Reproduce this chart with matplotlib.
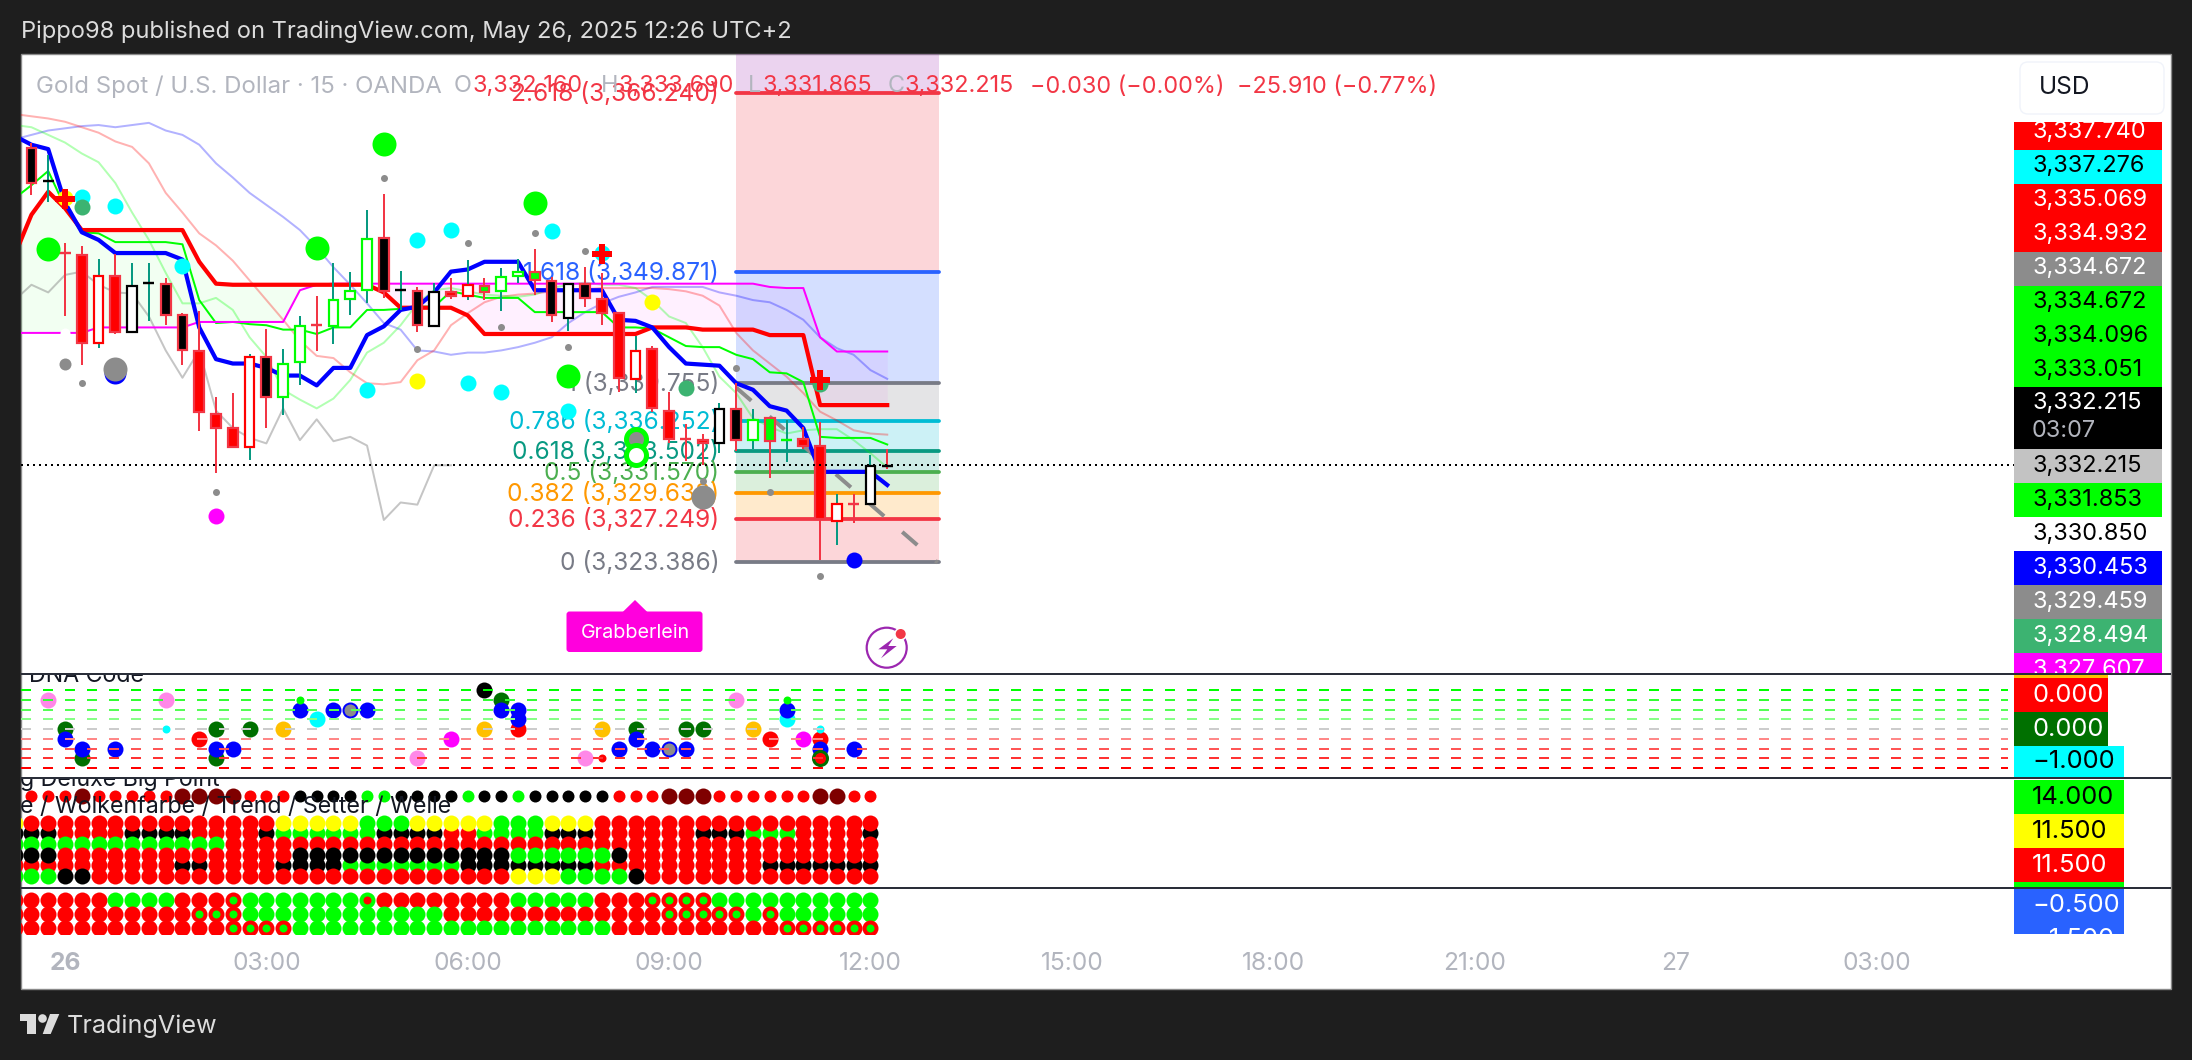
import numpy as np
import matplotlib
matplotlib.use("Agg")
import matplotlib.pyplot as plt
from matplotlib.patches import Rectangle, Circle, Polygon, FancyBboxPatch
from matplotlib.transforms import Bbox

plt.rcParams['font.family'] = ['Inter', 'Liberation Sans', 'DejaVu Sans']

# ---------- DATA (prices are given as offset above 3300) ----------
PRICE_BASE = 3300.0
bar_t = list(range(-2, 50))         # bar index, 4 bars = 1 hour, 0 = 00:00 on the 26th
candle_style = ['K','dk','dR','R','r','R','w','dk','K','K','R','R','R','r','K','g','g','dR','g','g','g','K','dk','K','w','R','r','G','g','g','G','K','w','K','R','R','r','R','R','dR','R','w','K','g','G','dG','R','R','r','dR','w','dkr']
body_top = [61.2,58.2,51.6,51.4,49.5,49.5,48.6,48.9,48.8,45.9,42.6,36.9,35.6,42.1,42.1,41.5,44.9,45.0,47.3,48.1,52.9,53.0,48.2,48.1,48.0,48.0,48.7,48.6,49.4,49.9,49.9,49.0,48.8,48.8,47.4,46.1,42.6,42.8,37.2,34.6,34.5,37.3,37.3,36.3,36.5,34.5,34.6,34.0,28.7,28.7,32.1,32.1]
body_bot = [58.0,58.2,51.6,43.4,43.4,44.4,44.4,48.9,45.9,42.7,37.1,35.6,33.9,33.9,38.4,38.4,41.6,45.0,44.9,47.4,48.2,48.1,48.2,45.0,44.9,47.7,47.7,48.0,48.1,49.5,49.1,45.9,45.7,47.5,46.1,40.2,40.1,37.4,34.6,34.6,34.2,34.2,34.5,34.5,34.4,34.5,34.0,27.3,27.1,28.7,28.7,32.1]
wick_hi = [61.7,60.6,52.5,52.2,51.1,51.5,50.7,50.7,49.3,46.1,46.3,38.4,38.8,42.4,44.7,42.8,45.8,47.7,50.7,49.9,55.5,57.0,50.0,48.5,48.9,49.3,51.0,49.3,50.2,51.1,52.0,49.4,48.8,50.3,49.8,46.1,44.0,43.1,38.9,36.0,35.1,37.9,39.7,37.3,36.6,36.3,35.7,36.2,29.6,29.6,33.1,33.7]
wick_lo = [56.9,56.3,45.8,41.4,42.9,44.2,44.4,45.4,45.0,41.4,35.3,31.5,33.8,32.7,35.6,36.8,39.5,42.6,43.3,45.9,47.0,47.5,46.4,44.4,44.9,47.4,47.3,47.3,46.3,48.9,47.8,45.3,44.5,46.7,45.0,38.9,38.8,37.1,34.2,32.6,32.2,33.3,33.5,33.7,31.0,32.5,33.7,23.5,24.9,26.9,28.7,31.9]

line_t = list(range(-3, 50))
tenkan_blue = [62.3,61.5,61.1,56.2,53.5,52.8,51.6,51.6,51.6,51.6,51.0,44.8,41.9,41.5,41.5,41.1,40.4,40.4,39.5,41.1,41.1,44.1,44.9,46.4,46.7,48.0,49.9,50.1,50.8,50.8,50.8,48.2,48.2,48.2,48.2,48.2,45.5,45.4,44.8,43.0,41.5,41.4,41.3,39.7,39.1,37.6,37.2,35.6,31.6,31.6,31.6,31.6,30.4]
kijun_red = [51.4,55.1,57.2,55.7,53.7,53.7,53.7,53.7,53.7,53.7,53.7,50.8,48.8,48.7,48.7,48.7,48.7,48.7,48.7,48.7,48.7,48.7,48.0,46.6,46.6,46.6,46.6,45.9,44.2,44.2,44.2,44.2,44.2,44.2,44.2,44.2,44.2,44.2,44.8,44.8,44.8,44.6,44.6,44.6,44.6,44.1,44.1,44.1,37.7,37.7,37.7,37.7,37.7]
span_green = [56.6,57.8,59.1,55.8,53.5,53.4,52.6,52.6,52.6,52.6,52.4,47.3,45.2,45.3,45.1,45.0,44.6,44.6,44.2,44.8,44.8,46.4,46.4,46.5,46.7,46.7,48.1,47.8,47.5,47.5,47.5,46.2,46.2,46.2,46.2,46.2,44.8,44.8,44.7,43.9,43.1,43.0,43.0,42.3,41.9,40.7,40.6,39.8,34.8,34.7,34.7,34.7,34.1]
span_magenta = [44.3,44.3,44.3,44.3,44.3,44.8,44.8,44.8,44.8,44.8,44.8,45.3,45.3,45.3,45.3,45.3,45.3,48.2,48.7,48.8,48.8,48.8,48.8,48.8,48.8,48.8,48.8,48.8,48.8,48.8,48.8,48.8,48.8,48.8,48.8,48.8,48.8,48.8,48.8,48.8,48.8,48.8,48.8,48.8,48.8,48.5,48.4,48.4,43.9,42.6,42.6,42.6,42.6]
pale_blue = [62.0,62.4,62.8,63.0,63.2,63.3,63.1,63.3,63.5,62.8,62.4,61.5,59.8,58.5,57.1,56.0,54.9,53.7,52.1,50.3,48.7,47.0,45.2,44.6,42.7,42.6,42.3,42.5,42.5,42.7,43.0,43.4,43.9,45.2,46.2,47.0,47.6,48.0,48.5,48.5,48.5,48.5,48.0,47.7,47.3,47.1,46.4,45.5,43.9,42.9,42.3,40.9,40.1]
pale_red = [64.3,64.1,63.9,63.6,63.1,62.6,61.8,61.3,59.8,57.1,55.3,53.4,52.3,50.9,49.1,47.3,45.5,43.6,42.2,42.0,40.7,39.7,39.6,39.8,41.8,42.7,45.0,46.1,47.1,47.6,47.8,47.9,48.1,48.2,48.3,48.4,48.4,48.4,48.4,48.3,48.1,47.7,46.8,44.3,42.7,41.5,40.3,38.8,37.1,36.3,35.4,35.1,35.0]
pale_green = [63.3,63.1,62.4,61.7,60.7,59.9,58.0,55.3,52.8,49.8,47.0,47.0,47.5,46.4,43.9,42.1,39.1,38.2,37.4,38.3,40.0,42.5,43.4,45.0,47.0,48.2,48.4,48.1,47.8,47.7,47.6,47.8,48.4,48.7,48.9,48.7,48.7,48.4,47.3,45.8,45.2,43.0,40.3,38.8,36.5,35.7,35.1,35.4,35.5,35.5,34.5,33.3,32.0]
chikou_t = list(range(-3, 24))
chikou_gray = [47.3,48.7,48.0,49.6,49.9,48.7,48.0,47.9,45.8,42.7,40.2,42.7,37.2,35.6,34.7,34.2,37.4,34.5,36.4,34.4,34.8,34.0,27.2,28.8,28.6,32.2,32.2]

last_price = 3332.215
fib_levels = [4.236, 2.618, 1.618, 1, 0.786, 0.618, 0.5, 0.382, 0.236, 0]
fib_prices = [3392.727, 3366.240, 3349.871, 3339.755, 3336.252, 3333.502, 3331.570, 3329.638, 3327.249, 3323.386]
fib_colors = ['#9c27b0', '#f23645', '#2962ff', '#787b86', '#00bcd4', '#089981', '#4caf50', '#ff9800', '#f23645', '#787b86']
fib_t = [40, 52.1]
fib_labels = ['', '2.618 (3,366.240)', '1.618 (3,349.871)', '1 (3,339.755)', '0.786 (3,336.252)', '0.618 (3,333.502)', '0.5 (3,331.570)', '0.382 (3,329.638)', '0.236 (3,327.249)', '0 (3,323.386)']
forecast_t = [40, 52]
forecast_y = [39.3, 23.3]

mk_green_t = [-1, 15, 19, 28, 30];               mk_green_y = [52.0, 52.1, 61.6, 56.2, 40.4]
mk_gray_t = [19, 24, 28, 31, 26, 21, 30, 1, 9, 38, 42, 40, 45]
mk_gray_y = [58.5, 52.5, 53.4, 51.8, 44.8, 42.8, 43.0, 39.7, 29.8, 30.8, 29.8, 41.1, 22.1]
mk_graymid_t = [0];                              mk_graymid_y = [41.5]
mk_graybig_t = [3, 38];                          mk_graybig_y = [41.0, 29.3]
mk_cyan_t = [1, 3, 7, 21, 23, 29, 32, 18, 24, 26, 30]
mk_cyan_y = [56.7, 55.9, 50.4, 52.8, 53.7, 53.6, 51.6, 39.1, 39.7, 38.9, 37.2]
mk_yellow_t = [0, 35, 21];                       mk_yellow_y = [56.6, 47.1, 39.9]
mk_sea_t = [1, 37, 45];                          mk_sea_y = [55.8, 39.3, 39.6]
mk_cross_t = [0, 32, 45];                        mk_cross_y = [56.5, 51.5, 40.0]

dna_levels = [4, 3, 2, 1, 0, -1, -2, -3, -4]
dna_level_colors = ['#00ff00', '#33ff33', '#55ff55', '#88ff88', '#cccccc', '#ff8888', '#ff5555', '#ff3333', '#ff0000']
dna_dark_t = [0, 1, 9, 9, 11, 26, 34, 37, 38];   dna_dark_y = [0, -3, 0, -3, 0, 3, 0, 0, 0]
dna_blue_t = [0, 1, 3, 9, 10, 14, 16, 18, 26, 27, 27, 33, 34, 35, 37, 43, 45, 47]
dna_blue_y = [-1, -2, -2, -2, -2, 2, 2, 2, 2, 2, 1, -2, -1, -2, -2, 2, -2, -2]
dna_pink_t = [-1, 6, 21, 31, 40];                dna_pink_y = [3, 3, -3, -3, 3]
dna_red_t = [8, 27, 42, 45];                     dna_red_y = [-1, 0, -1, -1]
dna_amber_t = [13, 25, 32, 41];                  dna_amber_y = [0, 0, 0, 0]
dna_cyan_t = [15, 43];                           dna_cyan_y = [1, 1]
dna_magenta_t = [23, 44];                        dna_magenta_y = [-1, -1]
dna_black_t = [25];                              dna_black_y = [4]
dna_ring_t = [17, 36];                           dna_ring_y = [2, -2]
dna_small_cyan_t = [6, 45];                      dna_small_cyan_y = [0, 0]
dna_small_lime_t = [14, 43];                     dna_small_lime_y = [3, 3]
dna_small_red_t = [32];                          dna_small_red_y = [-3]

point_t = list(range(-2, 49))
point_code = ['R','R','R','D','R','R','R','R','R','D','D','D','D','R','R','R','K','K','K','K','L','L','K','K','K','K','L','K','K','L','K','K','K','K','K','R','R','R','D','D','D','R','R','R','R','R','R','D','D','R','R']

trend_t = list(range(-3, 49))
trend_columns = ['YKGKRG','RKGKRG','RKGKRG','RRGRRK','RRGRRK','RRGRRR','RRGRRR','RKGRRR','RKGRRR','RKGRRR','RKGRKR','RRGRKR','RRGRRR','RRRRRR','RRRRRR','RKRRRR','YGRRKR','YGRKKR','YGRKKR','YGRKKR','YGRKGR','GGRKGR','GKRKGR','GKRKGR','YKRKGR','YKRKGR','YRRKGR','YRRKKR','YGRKKR','GGRKKR','GGRGKY','GGRGKY','YKRGKY','YKRGKG','YKRGKG','RRRGRG','RRRKRG','RRRRRK','RRRRRR','RRRRRR','RRRRRR','RKRRRR','RKRRRR','RKRRRR','RGRRRR','RGRRKR','RGRRKR','RRRRKR','RRRRKR','RRRRKR','RRRRKR','RKRRKR']
signal_columns = ['RRR','RRR','RRR','RRR','RRR','RRR','GRR','GRR','GRR','GRR','RRR','RrR','RrR','rrr','GGr','GGr','GGr','GGG','GGG','GGG','GGG','gGG','RGG','RGG','RGG','RGG','RRG','RRG','RRG','RRG','GRG','GRG','GRG','GRG','GRG','RRG','RRR','RRR','rRR','rrR','rrR','rrR','GrR','GrR','GGR','GrR','GGr','GGr','GGr','GGr','GGr','GGr']

price_tags = ['3,337.740','3,337.276','3,335.069','3,334.932','3,334.672','3,334.672','3,334.096','3,333.051']
price_tag_bg = ['#ff0000','#00ffff','#ff0000','#ff0000','#8c8c8c','#00ff00','#00ff00','#00ff00']
price_tag_fg = ['white','black','white','white','white','black','black','black']
price_tags2 = ['3,332.215','3,331.853','3,330.850','3,330.453','3,329.459','3,328.494','3,327.607']
price_tag2_bg = ['#c3c3c3','#00ff00','white','#0000ff','#8c8c8c','#3cb371','#ff00ff']
price_tag2_fg = ['black','black','black','white','white','white','white']
time_t = [0, 12, 24, 36, 48, 60, 72, 84, 96, 108]
time_labels = ['26', '03:00', '06:00', '09:00', '12:00', '15:00', '18:00', '21:00', '27', '03:00']

# ---------- LAYOUT ----------
W, H = 2192, 1060
PX_BAR, X0 = 16.78, 65.0
LEFT, RIGHT, TOP, BOTTOM = 21, 2014, 54, 989
PX_PRICE, Y_REF, P_REF = 10.94, 561.7, 3323.386
COL = {'R': '#ff0000', 'G': '#00ff00', 'K': '#000000', 'Y': '#ffff00', 'D': '#7f0000', 'L': '#00ff00'}
RED, TEAL = '#f23645', '#089981'

fig = plt.figure(figsize=(W / 100, H / 100), dpi=100, facecolor='#1e1e1e')

def make_ax(y0, y1, ylim, z=1):
    ax = fig.add_axes([LEFT / W, 1 - y1 / H, (RIGHT - LEFT) / W, (y1 - y0) / H], zorder=z)
    ax.set_xlim((LEFT - X0) / PX_BAR, (RIGHT - X0) / PX_BAR)
    ax.set_ylim(*ylim)
    ax.set_axis_off()
    return ax

bg = fig.add_axes([0, 0, 1, 1], zorder=0)
bg.set_xlim(0, W); bg.set_ylim(H, 0); bg.set_axis_off()
bg.add_patch(Rectangle((20.5, TOP), 2171 - 20.5, BOTTOM - TOP, fc='white', ec='#8a8a8a', lw=1))

def s(d):
    return (d * 0.72) ** 2

def dots(ax, t, y, color, d, z=8, **kw):
    ax.scatter(t, y, s=s(d), c=color, linewidths=kw.pop('lw', 0), zorder=z, **kw)

def pr(v):
    return PRICE_BASE + np.asarray(v, dtype=float)

# ---------- MAIN PRICE PANEL ----------
py = lambda ypx: P_REF + (Y_REF - ypx) / PX_PRICE
main = make_ax(TOP, 673.5, (py(673.5), py(TOP)))

lw_px = lambda p: p * 0.72
# cloud
main.fill_between(line_t, pr(kijun_red), pr(span_magenta), where=np.array(kijun_red) >= np.array(span_magenta),
                  interpolate=True, color='#00ff00', alpha=0.05, lw=0, zorder=1)
main.fill_between(line_t, pr(kijun_red), pr(span_magenta), where=np.array(kijun_red) <= np.array(span_magenta),
                  interpolate=True, color='#ff00ff', alpha=0.06, lw=0, zorder=1)
# fib
for i in range(1, len(fib_prices)):
    main.fill_between(fib_t, fib_prices[i - 1], fib_prices[i], color=fib_colors[i - 1], alpha=0.2, lw=0, zorder=1.5)
for p, c, lab in zip(fib_prices, fib_colors, fib_labels):
    main.plot(fib_t, [p, p], color=c, lw=lw_px(3.8), solid_capstyle='round', zorder=2)
    if lab:
        main.annotate(lab, xy=(fib_t[0], p), xytext=(-17, -1), textcoords='offset pixels', ha='right',
                      va='center', color=c, fontsize=lw_px(24.5), zorder=3, annotation_clip=False)
# pale
main.plot(line_t, pr(pale_blue), color='#0000ff', alpha=0.3, lw=lw_px(2), zorder=4)
main.plot(line_t, pr(pale_red), color='#ff0000', alpha=0.3, lw=lw_px(2), zorder=4)
main.plot(line_t, pr(pale_green), color='#00ff00', alpha=0.3, lw=lw_px(2), zorder=4)
main.plot(chikou_t, pr(chikou_gray), color='#808080', alpha=0.45, lw=lw_px(2), zorder=4)
main.plot(line_t, pr(span_green), color='#00ff00', lw=lw_px(2), zorder=4.5)
main.plot(line_t, pr(span_magenta), color='#ff00ff', lw=lw_px(2), zorder=4.5)
main.plot(forecast_t, pr(forecast_y), color='#8c8c8c', lw=lw_px(4), linestyle=(0, (5, 6)), zorder=4.6)
main.plot(line_t, pr(kijun_red), color='#ff0000', lw=lw_px(4.2), zorder=5, solid_joinstyle='round')
main.plot(line_t, pr(tenkan_blue), color='#0000ff', lw=lw_px(4.2), zorder=5.2, solid_joinstyle='round')
# candles
STY = {'K': ('#000000', RED, RED), 'R': ('#ff0000', RED, RED), 'r': ('white', '#ff0000', TEAL),
       'w': ('white', '#000000', TEAL), 'g': ('white', '#00ff00', TEAL), 'G': ('#00ff00', RED, RED)}
DASH = {'dk': ('#000000', TEAL), 'dR': (RED, RED), 'dG': ('#00ff00', TEAL), 'dkr': ('#000000', RED)}
for t, st, top, bot, hi, lo in zip(bar_t, candle_style, pr(body_top), pr(body_bot), pr(wick_hi), pr(wick_lo)):
    if st in DASH:
        c, w = DASH[st]
        main.vlines(t, lo, hi, color=w, lw=lw_px(2), zorder=6)
        main.plot([t - 0.33, t + 0.33], [top, top], color=c, lw=lw_px(2.4), zorder=6.2, solid_capstyle='butt')
    else:
        fc, ec, w = STY[st]
        main.vlines(t, lo, hi, color=w, lw=lw_px(2), zorder=6)
        main.bar(t, top - bot, bottom=bot, width=0.58, facecolor=fc, edgecolor=ec, linewidth=lw_px(2.2), zorder=6.2)
main.axhline(last_price, color='black', lw=lw_px(2), linestyle=(0, (1, 2)), zorder=7)
# markers
dots(main, [3], pr([40.6]), '#0000ff', 22, z=7.8)
dots(main, mk_graybig_t, pr(mk_graybig_y), '#8c8c8c', 24)
dots(main, mk_green_t, pr(mk_green_y), '#00ff00', 24)
dots(main, mk_gray_t, pr(mk_gray_y), '#8c8c8c', 7)
dots(main, mk_graymid_t, pr(mk_graymid_y), '#8c8c8c', 12)
dots(main, mk_yellow_t, pr(mk_yellow_y), '#ffff00', 16)
dots(main, mk_cyan_t, pr(mk_cyan_y), '#00ffff', 16)
dots(main, mk_sea_t, pr(mk_sea_y), '#3cb371', 16, z=8.2)
dots(main, [9], pr([27.6]), '#ff00ff', 16)
dots(main, [47], pr([23.5]), '#0000ff', 16)
dots(main, [0], pr([44.3]), 'white', 10)
main.scatter([34], pr([34.6]), s=s(20), c='#8c8c8c', edgecolors='#00ff00', linewidths=lw_px(5), zorder=8)
main.scatter([34], pr([33.1]), s=s(20), c='white', edgecolors='#00ff00', linewidths=lw_px(5), zorder=8)
main.scatter(mk_cross_t, pr(mk_cross_y), s=s(20.5), c='#ff0000', marker='P', linewidths=0, zorder=9)

# ---------- DNA PANEL ----------
PX_DNA = 9.75
dna = make_ax(674.5, 778, (0 - (778 - 729) / PX_DNA, (729 - 674.5) / PX_DNA))
dots(dna, dna_dark_t, dna_dark_y, '#007000', 16, z=2)
dots(dna, dna_blue_t, dna_blue_y, '#0000ff', 16, z=3)
dots(dna, dna_pink_t, dna_pink_y, '#ff88e8', 16, z=3)
dots(dna, dna_red_t, dna_red_y, '#ff0000', 16, z=2)
dots(dna, dna_amber_t, dna_amber_y, '#ffc000', 16, z=2)
dots(dna, dna_cyan_t, dna_cyan_y, '#00ffff', 16, z=2.5)
dots(dna, dna_magenta_t, dna_magenta_y, '#ff00ff', 16, z=3)
dots(dna, dna_black_t, dna_black_y, '#000000', 16, z=3)
dna.scatter(dna_ring_t, dna_ring_y, s=s(14), c='#8c8c8c', edgecolors='#0000ff', linewidths=lw_px(2), zorder=3)
dots(dna, dna_small_cyan_t, dna_small_cyan_y, '#00ffff', 8, z=4)
dots(dna, dna_small_lime_t, dna_small_lime_y, '#00ff00', 8, z=4)
dots(dna, dna_small_red_t, dna_small_red_y, '#ff0000', 8, z=4)
dna.scatter([45], [-3], s=s(14), c='#ff0000', edgecolors='#007000', linewidths=lw_px(3), zorder=4)
for lv, c in zip(dna_levels, dna_level_colors):
    dna.plot([(LEFT - X0) / PX_BAR, (2008 - X0) / PX_BAR], [lv, lv], color=c, lw=lw_px(2),
             linestyle=(0, (5, 6)), zorder=5, solid_capstyle='butt', dash_capstyle='butt')

# ---------- TREND PANEL ----------
PX_T = 10.66
trend = make_ax(778, 888, (9 - (888 - 876) / PX_T, 14 + (822.7 - 778) / PX_T))
point_y = 16.5
for t, c in zip(point_t, point_code):
    dots(trend, [t], [point_y], COL[c], 16 if c == 'D' else 12, z=2)
row_z = [3, 1, 2, 3, 1, 3]
for col_t, col in zip(trend_t, trend_columns):
    for r, c in enumerate(col):
        dots(trend, [col_t], [14 - r], COL[c], 16, z=row_z[r])

# ---------- SIGNAL PANEL ----------
PX_S = 14.0
sig = make_ax(888, 933.5, (-(933.5 - 900) / PX_S, (900 - 888) / PX_S))
for col_t, col in zip(trend_t, signal_columns):
    for r, c in enumerate(col):
        lv = -r
        if c == 'r':
            dots(sig, [col_t], [lv], '#ff0000', 16, z=2)
            dots(sig, [col_t], [lv], '#00ff00', 8, z=3)
        elif c == 'g':
            dots(sig, [col_t], [lv], '#00ff00', 16, z=2)
            dots(sig, [col_t], [lv], '#ff0000', 8, z=3)
        else:
            dots(sig, [col_t], [lv], COL[c], 16, z=2)

# ---------- OVERLAY (labels and chrome) ----------
ov = fig.add_axes([0, 0, 1, 1], zorder=5)
ov.set_xlim(0, W); ov.set_ylim(H, 0); ov.set_axis_off(); ov.patch.set_alpha(0)

def clipbox(x0, y0, x1, y1):
    return Bbox([[x0, H - y1], [x1, H - y0]])

def T(x, y, txt, color, px, ha='left', va='center', clip=None, **kw):
    t = ov.text(x, y, txt, color=color, fontsize=lw_px(px), ha=ha, va=va, **kw)
    if clip is not None:
        t.set_clip_on(True)
        t.set_clip_box(clipbox(*clip))
    return t

# panel separators
for yy in (674, 778, 888):
    ov.plot([21, 2171], [yy, yy], color='#2a2e39', lw=lw_px(2), solid_capstyle='butt', zorder=6)

# header and footer
T(21, 32, 'Pippo98 published on TradingView.com, May 26, 2025 12:26 UTC+2', '#dcdcdc', 23.7)
T(36, 86.5, 'Gold Spot / U.S. Dollar · 15 · OANDA', '#b2b5be', 24)
for x, lab in zip((454, 601, 748, 888), 'OHLC'):
    T(x, 86.5, lab, '#b2b5be', 23.5)
for x, val in zip((473, 619, 762, 905), ('3,332.160', '3,333.690', '3,331.865', '3,332.215')):
    T(x, 86.5, val, RED, 23.4)
T(1030, 86.5, '−0.030 (−0.00%)', RED, 23.4)
T(1237, 86.5, '−25.910 (−0.77%)', RED, 23.5)

T(67, 1026, 'TradingView', '#dcdcdc', 25.2)
ov.add_patch(Polygon([(20, 1014), (36, 1014), (36, 1034), (27, 1034), (27, 1021), (20, 1021)], fc='#dcdcdc', ec='none'))
ov.add_patch(Circle((42.5, 1018.5), 4.3, fc='#dcdcdc', ec='none'))
ov.add_patch(Polygon([(50, 1014), (59.3, 1014), (50.7, 1034), (42.7, 1034)], fc='#dcdcdc', ec='none'))

# USD button
ov.add_patch(FancyBboxPatch((2026, 68), 132, 40, boxstyle='round,pad=6,rounding_size=8', fc='white', ec='#f0f3fa', lw=1))
T(2039, 87, 'USD', '#131722', 24.5)

# price scale tags
STEP = 34.0
yy = 115.5
for txt, b, f in zip(price_tags, price_tag_bg, price_tag_fg):
    y0, y1 = max(yy, 122), yy + STEP
    ov.add_patch(Rectangle((2014, y0), 148, y1 - y0, fc=b, ec='none'))
    T(2032, yy + STEP / 2, txt, f, 23.5, clip=(2014, 122, 2171, 1060))
    yy += STEP
ov.add_patch(Rectangle((2014, 387), 148, 61.5, fc='black', ec='none'))
T(2032, 403, '3,332.215', 'white', 23.5)
T(2032, 431, '03:07', '#b2b5be', 23.5)
yy = 449
for txt, b, f in zip(price_tags2, price_tag2_bg, price_tag2_fg):
    y1 = min(yy + STEP, 673)
    ov.add_patch(Rectangle((2014, yy), 148, y1 - yy, fc=b, ec='none'))
    T(2032, yy + STEP / 2, txt, f, 23.5, clip=(2014, 0, 2171, 673))
    yy += STEP

# indicator panel tags
ov.add_patch(Rectangle((2014, 675), 93.5, 3, fc='#ffc000', ec='none'))
for y0, y1, x1, txt, b, f, cy in [(678, 712, 2107.5, '0.000', '#ff0000', 'white', 695),
                                  (712, 746, 2107.5, '0.000', '#007000', 'white', 729),
                                  (746, 777, 2124, '−1.000', '#00ffff', 'black', 762),
                                  (780, 814, 2124, '14.000', '#00ff00', 'black', 797),
                                  (814, 848, 2124, '11.500', '#ffff00', 'black', 831),
                                  (848, 882, 2124, '11.500', '#ff0000', 'white', 865),
                                  (889, 923, 2124, '−0.500', '#2962ff', 'white', 906),
                                  (923, 934, 2124, '−1.500', '#2962ff', 'white', 939)]:
    ov.add_patch(Rectangle((2014, y0), x1 - 2014, y1 - y0, fc=b, ec='none'))
    T(2032, cy, txt, f, 25.5, clip=(2014, y0, 2171, y1))
ov.add_patch(Rectangle((2014, 882), 110, 5, fc='#00ff00', ec='none'))

# indicator titles (clipped by their panes, as in the original)
T(29, 682, 'DNA Code', '#131722', 23.2, va='baseline', clip=(21, 675, 2014, 778))
T(20, 786, 'g Deluxe Big Point', '#131722', 23.2, va='baseline', clip=(21, 779, 2014, 888))
T(20, 812.7, 'e / Wolkenfarbe / Trend / Setter / Welle', '#131722', 23.2, va='baseline', clip=(21, 779, 2014, 888))

# time axis
for t, lab in zip(time_t, time_labels):
    T(X0 + PX_BAR * t, 963.5, lab, '#b2b5be', 24.6, ha='center', fontweight='bold' if lab == '26' else 'normal')

# Grabberlein tag
ov.add_patch(FancyBboxPatch((569, 614), 131, 35.5, boxstyle='round,pad=2.5,rounding_size=3', fc='#ff00dd', ec='none'))
ov.add_patch(Polygon([(622.7, 612), (635, 600), (647.3, 612)], fc='#ff00dd', ec='none'))
T(635.7, 633.5, 'Grabberlein', 'white', 19.8, ha='center')

# flash icon
ov.add_patch(Circle((886.7, 647.7), 20, fc='none', ec='#9c27b0', lw=lw_px(2.2)))
ov.add_patch(Polygon([(893.3, 638.3), (878.3, 649.3), (887.3, 649.3), (881, 658.3), (896.7, 646), (888.3, 646)], fc='#9c27b0', ec='none'))
ov.add_patch(Circle((900.7, 634), 6.5, fc='white', ec='none'))
ov.add_patch(Circle((900.7, 634), 5, fc='#f23645', ec='none'))

fig.savefig('out.png', dpi=100, facecolor=fig.get_facecolor())
